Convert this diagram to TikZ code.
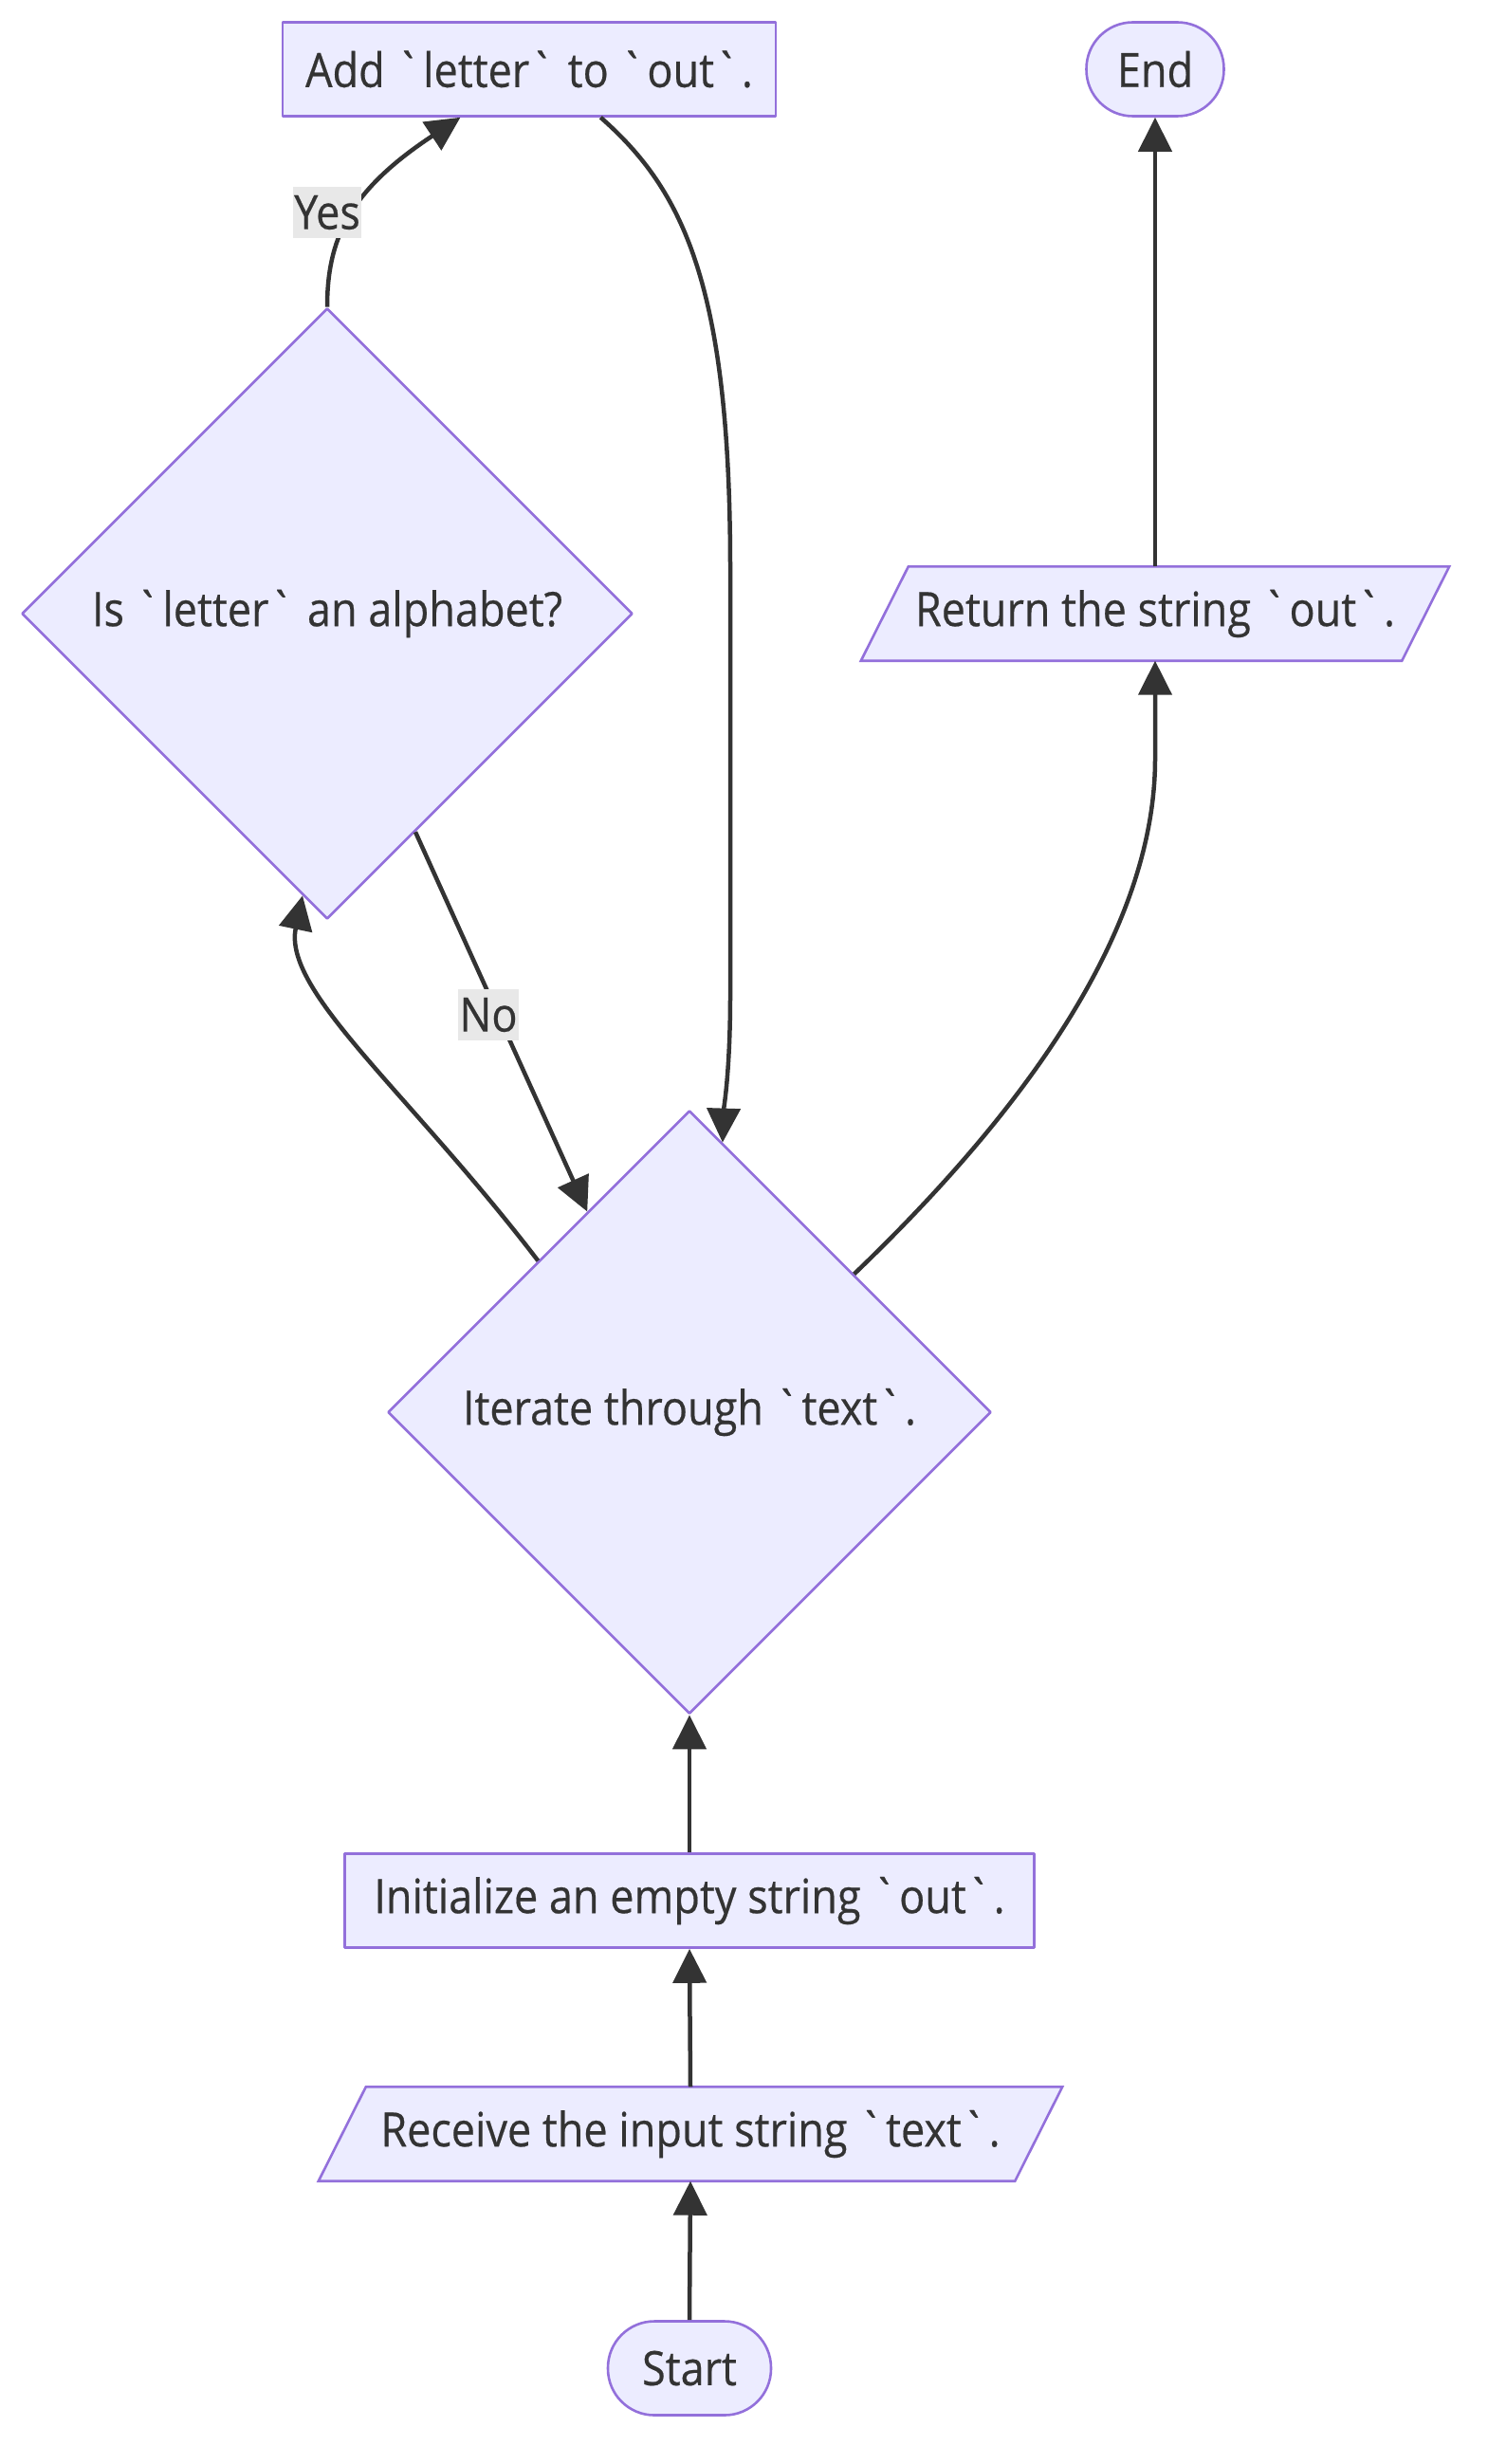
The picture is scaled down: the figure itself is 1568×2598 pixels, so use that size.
\documentclass[tikz,border=0pt]{standalone}
\usepackage{fontspec}
\setmainfont{Open Sans}[FakeStretch=0.9,FakeBold=0.4]
\usetikzlibrary{shapes.geometric,arrows.meta,backgrounds}
\definecolor{boxfill}{HTML}{ECECFF}
\definecolor{boxline}{HTML}{9370DB}
\definecolor{edgeline}{HTML}{333333}
\definecolor{labelfill}{HTML}{E8E8E8}
\newcommand{\grv}{\textasciigrave}

\begin{document}
\begin{tikzpicture}
    % one unit is one pixel of the chart, y runs downwards
    [x=1pt,y=-1pt,line join=round,
     font=\fontsize{50}{60}\selectfont,text=edgeline,
     outline/.style={draw=boxline,fill=boxfill,line width=2.6pt},
     shapebase/.style={outline,inner sep=0pt,minimum height=99pt},
     proc/.style={shapebase,rectangle},
     term/.style={shapebase,rectangle,rounded corners=49pt},
     decide/.style={shapebase,diamond,aspect=1,minimum width=644pt,minimum height=644pt},
     io/.style={rectangle,inner sep=0pt,minimum height=99pt},
     flow/.style={draw=edgeline,line width=4.5pt,-{Triangle[length=36pt,width=35pt]}},
     elabel/.style={fill=labelfill,inner sep=1pt,minimum height=54pt}]

    \useasboundingbox (0,0) rectangle (1568,2598);

    \node[term,minimum width=172pt] (start) at (727,2497) {Start};
    \node[io,minimum width=734pt] (receive) at (728,2250) {Receive the input string \grv text\grv.};
    \node[proc,minimum width=727pt] (init) at (727,2004) {Initialize an empty string \grv out\grv.};
    \node[decide,minimum width=636pt,minimum height=636pt] (iter) at (727,1489) {Iterate through \grv text\grv.};
    \node[decide] (letter) at (345,647) {Is \grv letter\grv{} an alphabet?};
    \node[proc,minimum width=520pt] (add) at (558,73) {Add \grv letter\grv{} to \grv out\grv.};
    \node[io,minimum width=570pt] (ret) at (1218,647) {Return the string \grv out\grv.};
    \node[term,minimum width=145pt] (finish) at (1218,73) {End};

    % slanted input/output boxes behind their text
    \begin{pgfonlayer}{background}
      \foreach \n in {receive,ret}
        \draw[outline] ([xshift=-25pt]\n.south west) -- ([xshift=25pt]\n.north west)
          -- ([xshift=25pt]\n.north east) -- ([xshift=-25pt]\n.south east) -- cycle;
    \end{pgfonlayer}

    \draw[flow] (start.north) -- (receive.south);
    \draw[flow] (receive.north) -- (init.south);
    \draw[flow] (init.north) -- (iter.south);
    \draw[flow] (iter.north west) .. controls (430,1150) and (298,1045) .. (letter.265);
    \draw[flow] (letter.292) -- (iter.117);
    \draw[flow] (letter.north) .. controls (345,250) and (370,200) .. (add.215);
    \draw[flow] (add.326) .. controls (720,200) and (770,300) .. (770,600)
        -- (770,1050) .. controls (770,1130) and (763,1170) .. (iter.83);
    \draw[flow] (iter.40) .. controls (1050,1200) and (1218,1000) .. (1218,800) -- (ret.south);
    \draw[flow] (ret.north) -- (finish.south);

    \node[elabel] (yes) at (345,224) {Yes};
    \node[elabel] (no) at (515,1070) {No};
\end{tikzpicture}
\end{document}
